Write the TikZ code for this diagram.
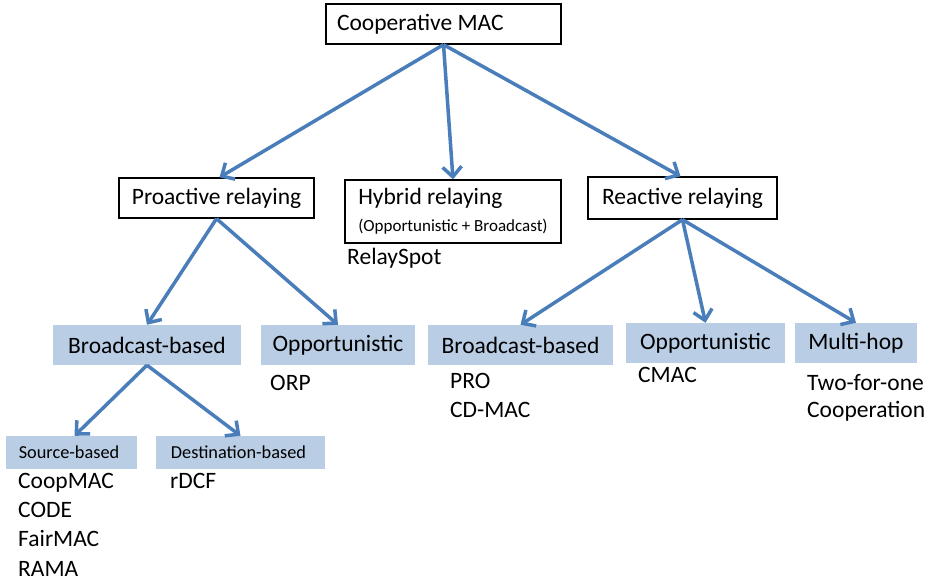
\documentclass[tikz,border=0pt]{standalone}
\usepackage{fontspec}
\setmainfont{Carlito}
\usetikzlibrary{arrows.meta}
\definecolor{arrowblue}{RGB}{74,126,187}
\definecolor{boxblue}{RGB}{185,205,229}
\tikzset{
  whitebox/.style={draw=black, line width=1.3pt, fill=white, rectangle, inner sep=2pt,
    font=\fontsize{23.5}{27}\selectfont},
  bluebox/.style={fill=boxblue, draw=none, rectangle, inner sep=2pt,
    font=\fontsize{23.5}{27}\selectfont},
  smallblue/.style={fill=boxblue, draw=none, rectangle, inner sep=2pt,
    font=\fontsize{18.3}{22}\selectfont},
  item/.style={anchor=base west, inner sep=0pt, font=\fontsize{23.5}{27}\selectfont},
  conn/.style={draw=arrowblue, line width=3.5pt, -{Straight Barb[length=10pt,width=19pt]}},
}
\begin{document}
\begin{tikzpicture}[x=1pt,y=-1pt]
\useasboundingbox[fill=white] (0,0) rectangle (938,583);

\node[whitebox, inner xsep=11pt, text width=213pt, align=flush left, minimum height=40pt] (coop) at (443.5,24) {Cooperative MAC};
\node[whitebox, minimum width=195pt, minimum height=40pt] (pro) at (216.5,198) {Proactive relaying};
\node[whitebox, minimum width=216pt, minimum height=63pt, align=left] (hyb) at (453,211.5)
  {Hybrid relaying\\[0pt]{\fontsize{17}{20}\selectfont (Opportunistic + Broadcast)}};
\node[whitebox, minimum width=189pt, minimum height=42pt] (rea) at (682.5,198) {Reactive relaying};

\node[bluebox, minimum width=188pt, minimum height=40pt] (bl) at (147,345) {Broadcast-based};
\node[bluebox, minimum width=154pt, minimum height=40pt] (ol) at (338,345) {Opportunistic};
\node[bluebox, minimum width=185pt, minimum height=40pt] (br) at (520.5,345) {Broadcast-based};
\node[bluebox, minimum width=159pt, minimum height=40pt] (orr) at (705.5,343) {Opportunistic};
\node[bluebox, minimum width=122pt, minimum height=40pt] (mh) at (856,343) {Multi-hop};

\node[smallblue, minimum width=131pt, minimum height=33pt] (src) at (71.5,452.5) {\hspace{-5pt}Source-based};
\node[smallblue, minimum width=169pt, minimum height=33pt] (dst) at (240.5,452.5) {\hspace{-4pt}Destination-based};

\node[item] (relayspot) at (347,264) {RelaySpot};
\node[item] (orp) at (270,390) {ORP};
\node[item] (prot) at (450,388) {PRO};
\node[item] (cdmac) at (450,417) {CD-MAC};
\node[item] (cmac) at (638,382) {CMAC};
\node[item] (twoforone) at (807,390) {Two-for-one};
\node[item] (cooperation) at (807,417) {Cooperation};
\node[item] (coopmac) at (18,488) {CoopMAC};
\node[item] (code) at (18,517) {CODE};
\node[item] (fairmac) at (18,546) {FairMAC};
\node[item] (rama) at (18,576) {RAMA};
\node[item] (rdcf) at (170,488) {rDCF};

\draw[conn] (coop.south) -- ([xshift=3pt]pro.north);
\draw[conn] (coop.south) -- (hyb.north);
\draw[conn] (coop.south) -- ([xshift=-2pt]rea.north);

\draw[conn] (pro.south) -- (bl.north);
\draw[conn] (pro.south) -- (ol.north);

\draw[conn] (rea.south) -- (br.north);
\draw[conn] (rea.south) -- (orr.north);
\draw[conn] (rea.south) -- (mh.north);

\draw[conn] (bl.south) -- ([xshift=3pt]src.north);
\draw[conn] (bl.south) -- (dst.north);
\end{tikzpicture}
\end{document}
